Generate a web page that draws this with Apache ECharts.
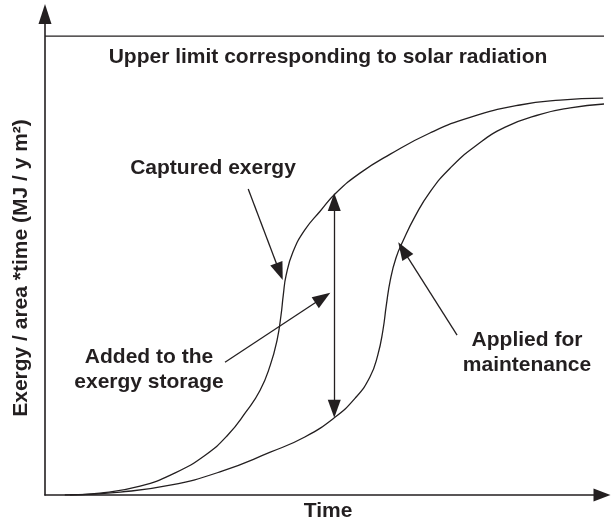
<!DOCTYPE html>
<html>
<head>
<meta charset="utf-8">
<script src="https://cdn.jsdelivr.net/npm/echarts@6/dist/echarts.min.js"></script>
<style>
html, body { margin: 0; padding: 0; background: #fff; }
#chart { width: 612px; height: 526px; }
</style>
</head>
<body>
<div id="chart"></div>
<script>
// values (arbitrary units, x = time, y = exergy/area*time)
const capturedX = [3.5, 9.7, 16.8, 23.0, 28.3, 32.3, 35.5, 38.0, 39.8, 41.0, 41.7, 42.1, 42.6, 43.8, 45.9, 48.6, 51.4, 55.7, 61.0, 68.0, 75.1, 83.9, 91.0, 98.6];
const capturedY = [0, 0.4, 1.8, 4.5, 8.1, 12.2, 16.9, 21.3, 26.4, 31.5, 36.6, 40.7, 44.7, 49.4, 53.9, 57.7, 61.4, 65.5, 69.3, 73.6, 76.8, 79.3, 80.3, 80.7];
const maintX = [4.4, 13.3, 22.1, 30.9, 39.8, 45.9, 51.1, 54.8, 57.4, 58.8, 59.7, 60.3, 61.0, 62.0, 63.3, 65.4, 68.0, 71.6, 76.0, 81.3, 87.5, 92.8, 98.8];
const maintY = [0, 0.6, 2.0, 4.7, 8.7, 11.8, 15.7, 19.7, 24.0, 28.5, 33.5, 38.6, 43.7, 48.2, 51.8, 56.7, 61.6, 66.5, 70.9, 74.8, 77.4, 78.7, 79.5];
const upperLimitX = [0, 98.8];
const upperLimitY = 93.3;

// annotation arrows: [fromX, fromY, tipX, tipY]
const arrowCaptured = [35.9, 62.2, 42.0, 43.7];
const arrowAdded = [31.8, 27.0, 50.4, 41.1];
const arrowApplied = [72.8, 32.5, 62.4, 51.4];
// the double arrow between the two curves
const storageX = 51.1;
const storageY = [61.4, 15.7];

const ink = '#231f20';
const font = 'bold 21px "Liberation Sans", Arial, sans-serif';
const headSize = [13, 18];

const zip = (xs, ys) => xs.map((x, i) => [x, ys[i]]);

const chart = echarts.init(document.getElementById('chart'));

function label(text, x, y, extra) {
    return Object.assign({
        type: 'text',
        x: x,
        y: y,
        style: { text: text, font: font, fill: ink, align: 'center', verticalAlign: 'middle' }
    }, extra || {});
}

chart.setOption({
    animation: false,
    grid: { left: 45, right: 10, top: 14, bottom: 31 },
    xAxis: {
        type: 'value',
        min: 0,
        max: 98.4,
        axisLine: { show: true, lineStyle: { color: ink, width: 1.6 }, symbol: ['none', 'triangle'], symbolSize: [13, 17] },
        axisTick: { show: false },
        axisLabel: { show: false },
        splitLine: { show: false }
    },
    yAxis: {
        type: 'value',
        min: 0,
        max: 97.8,
        axisLine: { show: true, lineStyle: { color: ink, width: 1.6 }, symbol: ['none', 'triangle'], symbolSize: [13, 20] },
        axisTick: { show: false },
        axisLabel: { show: false },
        splitLine: { show: false }
    },
    series: [
        {
            name: 'Captured exergy',
            type: 'line',
            data: zip(capturedX, capturedY),
            smooth: 0.5,
            showSymbol: false,
            lineStyle: { color: ink, width: 1.3 }
        },
        {
            name: 'Applied for maintenance',
            type: 'line',
            data: zip(maintX, maintY),
            smooth: 0.5,
            showSymbol: false,
            lineStyle: { color: ink, width: 1.3 }
        },
        {
            name: 'Upper limit',
            type: 'line',
            data: upperLimitX.map(x => [x, upperLimitY]),
            showSymbol: false,
            lineStyle: { color: ink, width: 1.3 }
        }
    ],
    graphic: [
        label('Upper limit corresponding to solar radiation', 328, 57),
        label('Captured exergy', 213, 168),
        label('Added to the', 149, 357),
        label('exergy storage', 149, 382),
        label('Applied for', 527, 340),
        label('maintenance', 527, 365),
        label('Time', 328, 511),
        label('Exergy / area *time (MJ / y m\u00b2)', 21, 268, { rotation: Math.PI / 2 })
    ]
});

// the triangle heads are centred on the line end, so pull each end back by half a head
function headEnd(tip, from) {
    const t = chart.convertToPixel({ gridIndex: 0 }, tip);
    const f = chart.convertToPixel({ gridIndex: 0 }, from);
    const dx = t[0] - f[0], dy = t[1] - f[1];
    const len = Math.hypot(dx, dy);
    const back = headSize[1] / 2;
    return chart.convertFromPixel({ gridIndex: 0 }, [t[0] - dx / len * back, t[1] - dy / len * back]);
}

function oneWay(a) {
    const from = [a[0], a[1]], tip = [a[2], a[3]];
    return [
        { coord: from, symbol: 'none' },
        { coord: headEnd(tip, from), symbol: 'triangle' }
    ];
}

const storageTop = [storageX, storageY[0]];
const storageBottom = [storageX, storageY[1]];

chart.setOption({
    series: [{}, {}, {
        markLine: {
            silent: true,
            symbolSize: headSize,
            label: { show: false },
            lineStyle: { color: ink, width: 1.3, type: 'solid' },
            data: [
                oneWay(arrowCaptured),
                oneWay(arrowAdded),
                oneWay(arrowApplied),
                [
                    { coord: headEnd(storageTop, storageBottom), symbol: 'triangle' },
                    { coord: headEnd(storageBottom, storageTop), symbol: 'triangle' }
                ]
            ]
        }
    }]
});
</script>
</body>
</html>
